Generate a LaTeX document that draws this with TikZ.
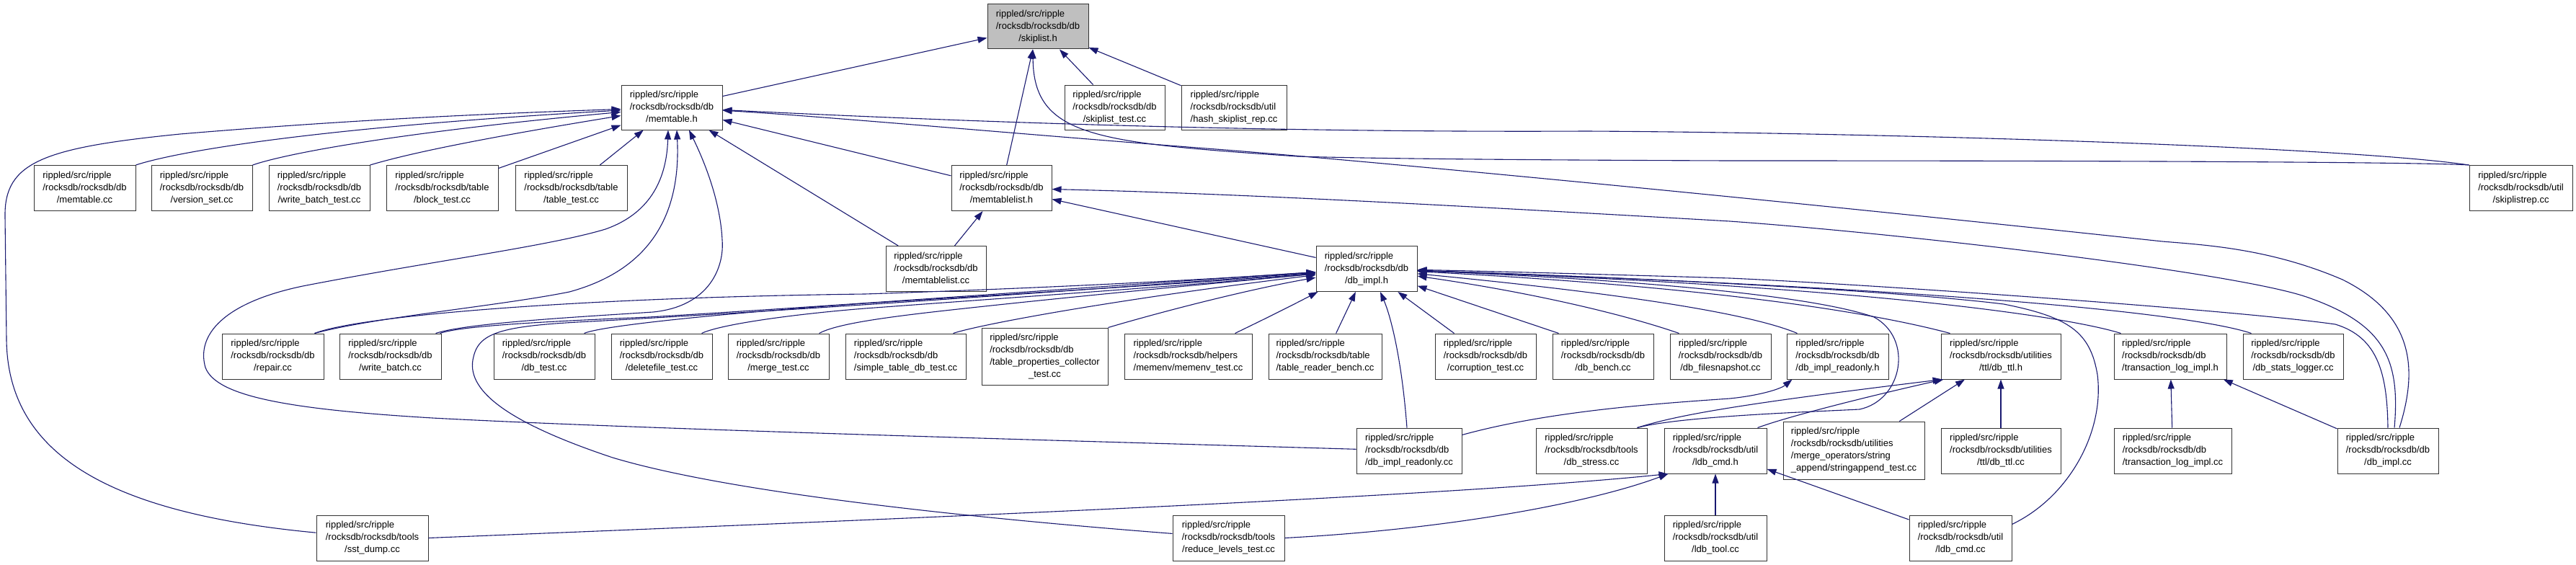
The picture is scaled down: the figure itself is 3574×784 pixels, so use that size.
\documentclass[tikz,border=0pt]{standalone}
\usepackage{fontspec}
\setmainfont{Liberation Sans}
\usetikzlibrary{arrows.meta,calc}
\definecolor{edgeblue}{HTML}{191970}
\definecolor{graynode}{HTML}{BFBFBF}
\newcommand\flbl[3]{\begin{tabular}{@{}l@{}}#1\\#2\\\multicolumn{1}{@{}c@{}}{#3}\end{tabular}}
\newcommand\flblf[4]{\begin{tabular}{@{}l@{}}#1\\#2\\#3\\\multicolumn{1}{@{}c@{}}{#4}\end{tabular}}
\newcommand\rsr{rippled/src/ripple}
\tikzset{
  file/.style={draw=black!80, line width=1pt, fill=white, inner sep=0pt, minimum height=63pt, font=\fontsize{13}{17}\selectfont},
  edge/.style={draw=edgeblue, line width=1.1pt, -{Triangle[length=13pt,width=9pt]}},
}
\begin{document}
\begin{tikzpicture}[x=1pt,y=-1pt]
\fill[white] (0,0) rectangle (3574,784);
\path[use as bounding box] (0,0) rectangle (3574,784);
% level 0
\node[file, fill=graynode, minimum width=140pt, minimum height=62pt] (skiplist) at (1440,37) {\flbl{\rsr}{/rocksdb/rocksdb/db}{/skiplist.h}};
% level 1
\node[file, minimum width=140pt, minimum height=62pt] (memtableh) at (932,149) {\flbl{\rsr}{/rocksdb/rocksdb/db}{/memtable.h}};
\node[file, minimum width=139pt, minimum height=62pt] (skiplisttest) at (1546.5,149) {\flbl{\rsr}{/rocksdb/rocksdb/db}{/skiplist\_test.cc}};
\node[file, minimum width=146pt, minimum height=62pt] (hashskip) at (1712,149) {\flbl{\rsr}{/rocksdb/rocksdb/util}{/hash\_skiplist\_rep.cc}};
% level 2
\node[file, minimum width=141pt] (memtablecc) at (117.5,261) {\flbl{\rsr}{/rocksdb/rocksdb/db}{/memtable.cc}};
\node[file, minimum width=140pt] (versionset) at (280,261) {\flbl{\rsr}{/rocksdb/rocksdb/db}{/version\_set.cc}};
\node[file, minimum width=140pt] (wbtest) at (443,261) {\flbl{\rsr}{/rocksdb/rocksdb/db}{/write\_batch\_test.cc}};
\node[file, minimum width=155pt] (blocktest) at (613.5,261) {\flbl{\rsr}{/rocksdb/rocksdb/table}{/block\_test.cc}};
\node[file, minimum width=155pt] (tabletest) at (792.5,261) {\flbl{\rsr}{/rocksdb/rocksdb/table}{/table\_test.cc}};
\node[file, minimum width=139pt] (memtablelisth) at (1389.5,261) {\flbl{\rsr}{/rocksdb/rocksdb/db}{/memtablelist.h}};
\node[file, minimum width=143pt] (skiplistrep) at (3497.5,261) {\flbl{\rsr}{/rocksdb/rocksdb/util}{/skiplistrep.cc}};
% level 3
\node[file, minimum width=139pt] (memtablelistcc) at (1298.5,373) {\flbl{\rsr}{/rocksdb/rocksdb/db}{/memtablelist.cc}};
\node[file, minimum width=140pt] (dbimplh) at (1896,373) {\flbl{\rsr}{/rocksdb/rocksdb/db}{/db\_impl.h}};
% level 4
\node[file, minimum width=141pt] (repair) at (378.5,494.5) {\flbl{\rsr}{/rocksdb/rocksdb/db}{/repair.cc}};
\node[file, minimum width=141pt] (writebatch) at (541.5,494.5) {\flbl{\rsr}{/rocksdb/rocksdb/db}{/write\_batch.cc}};
\node[file, minimum width=140pt] (dbtest) at (755,494.5) {\flbl{\rsr}{/rocksdb/rocksdb/db}{/db\_test.cc}};
\node[file, minimum width=140pt] (deletefile) at (918,494.5) {\flbl{\rsr}{/rocksdb/rocksdb/db}{/deletefile\_test.cc}};
\node[file, minimum width=140pt] (mergetest) at (1080,494.5) {\flbl{\rsr}{/rocksdb/rocksdb/db}{/merge\_test.cc}};
\node[file, minimum width=167pt] (simpletable) at (1256.5,494.5) {\flbl{\rsr}{/rocksdb/rocksdb/db}{/simple\_table\_db\_test.cc}};
\node[file, minimum width=175pt, minimum height=79pt] (tpc) at (1449.5,494.5) {\flblf{\rsr}{/rocksdb/rocksdb/db}{/table\_properties\_collector}{\_test.cc}};
\node[file, minimum width=177pt] (memenv) at (1648.5,494.5) {\flbl{\rsr}{/rocksdb/rocksdb/helpers}{/memenv/memenv\_test.cc}};
\node[file, minimum width=157pt] (tablereader) at (1838.5,494.5) {\flbl{\rsr}{/rocksdb/rocksdb/table}{/table\_reader\_bench.cc}};
\node[file, minimum width=140pt] (corruption) at (2061,494.5) {\flbl{\rsr}{/rocksdb/rocksdb/db}{/corruption\_test.cc}};
\node[file, minimum width=140pt] (dbbench) at (2224,494.5) {\flbl{\rsr}{/rocksdb/rocksdb/db}{/db\_bench.cc}};
\node[file, minimum width=140pt] (dbfilesnap) at (2387,494.5) {\flbl{\rsr}{/rocksdb/rocksdb/db}{/db\_filesnapshot.cc}};
\node[file, minimum width=141pt] (dbimplroh) at (2549.5,494.5) {\flbl{\rsr}{/rocksdb/rocksdb/db}{/db\_impl\_readonly.h}};
\node[file, minimum width=166pt] (dbttlh) at (2776,494.5) {\flbl{\rsr}{/rocksdb/rocksdb/utilities}{/ttl/db\_ttl.h}};
\node[file, minimum width=156pt] (tlimplh) at (3011,494.5) {\flbl{\rsr}{/rocksdb/rocksdb/db}{/transaction\_log\_impl.h}};
\node[file, minimum width=139pt] (dbstats) at (3181.5,494.5) {\flbl{\rsr}{/rocksdb/rocksdb/db}{/db\_stats\_logger.cc}};
% level 5
\node[file, minimum width=146pt] (dbimplro) at (1955,625.5) {\flbl{\rsr}{/rocksdb/rocksdb/db}{/db\_impl\_readonly.cc}};
\node[file, minimum width=154pt] (dbstress) at (2208,625.5) {\flbl{\rsr}{/rocksdb/rocksdb/tools}{/db\_stress.cc}};
\node[file, minimum width=142pt] (ldbcmdh) at (2380,625.5) {\flbl{\rsr}{/rocksdb/rocksdb/util}{/ldb\_cmd.h}};
\node[file, minimum width=196pt, minimum height=80pt] (stringappend) at (2572,625) {\flblf{\rsr}{/rocksdb/rocksdb/utilities}{/merge\_operators/string}{\_append/stringappend\_test.cc}};
\node[file, minimum width=166pt] (dbttlcc) at (2776,625.5) {\flbl{\rsr}{/rocksdb/rocksdb/utilities}{/ttl/db\_ttl.cc}};
\node[file, minimum width=163pt] (tlimplcc) at (3014.5,625.5) {\flbl{\rsr}{/rocksdb/rocksdb/db}{/transaction\_log\_impl.cc}};
\node[file, minimum width=140pt] (dbimplcc) at (3313,625.5) {\flbl{\rsr}{/rocksdb/rocksdb/db}{/db\_impl.cc}};
% level 6
\node[file, minimum width=155pt] (sstdump) at (516.5,746.5) {\flbl{\rsr}{/rocksdb/rocksdb/tools}{/sst\_dump.cc}};
\node[file, minimum width=155pt] (reducelevels) at (1704.5,746.5) {\flbl{\rsr}{/rocksdb/rocksdb/tools}{/reduce\_levels\_test.cc}};
\node[file, minimum width=142pt] (ldbtool) at (2380,746.5) {\flbl{\rsr}{/rocksdb/rocksdb/util}{/ldb\_tool.cc}};
\node[file, minimum width=142pt] (ldbcmdcc) at (2720,746.5) {\flbl{\rsr}{/rocksdb/rocksdb/util}{/ldb\_cmd.cc}};

% ---- edges to skiplist.h
\draw[edge] (memtableh) -- (skiplist);
\draw[edge] (skiplisttest) -- (skiplist);
\draw[edge] (hashskip) -- (skiplist);
\draw[edge] (memtablelisth) -- (skiplist);
\draw[edge] (skiplistrep.north west) .. controls (3380,226) and (3100,223) .. (2400,223) .. controls (2100,222) and (1900,220) .. (1800,217) .. controls (1520,198) and (1434,190) .. ([xshift=-7pt]skiplist.south);
% ---- edges to memtable.h
\draw[edge] (memtablecc.north east) .. controls (240,212) and (420,178) .. (memtableh);
\draw[edge] (versionset.north east) .. controls (400,212) and (560,183) .. (memtableh);
\draw[edge] (wbtest.north east) .. controls (560,215) and (650,195) .. (memtableh);
\draw[edge] (blocktest) -- (memtableh);
\draw[edge] (tabletest) -- (memtableh);
\draw[edge] (sstdump) .. controls (150,712) and (10,630) .. (9,470) -- (7,300) .. controls (6,225) and (60,205) .. (250,186) .. controls (500,165) and (700,157) .. (memtableh);
\draw[edge] ([xshift=-13pt]repair.north east) .. controls (520,440) and (690,425) .. (790,405) .. controls (900,375) and (945,300) .. ([xshift=7pt]memtableh.south);
\draw[edge] (dbimplro) .. controls (1500,612) and (900,596) .. (600,580) .. controls (400,568) and (300,550) .. (285,510) .. controls (272,465) and (310,420) .. (420,397) .. controls (600,362) and (760,342) .. (840,318) .. controls (905,295) and (925,245) .. ([xshift=-5pt]memtableh.south);
\draw[edge] ([xshift=-8pt]writebatch.north east) .. controls (650,448) and (800,440) .. (906,433) .. controls (985,425) and (1005,370) .. (1002,333) .. controls (1000,290) and (985,240) .. ([xshift=24pt]memtableh.south);
\draw[edge] (memtablelisth) -- (memtableh);
\draw[edge] (memtablelistcc) -- (memtableh);
\draw[edge] (skiplistrep.north west) .. controls (3250,203) and (2600,184) .. (2200,182) .. controls (1800,184) and (1400,172) .. (memtableh);
\draw[edge] ([xshift=16pt]dbimplcc.north) .. controls (3352,520) and (3355,440) .. (3250,388) .. controls (3150,345) and (3060,340) .. (3000,335) .. controls (2600,292) and (2000,232) .. (1700,208) .. controls (1400,185) and (1150,162) .. (memtableh);
% ---- edges to memtablelist.h
\draw[edge] (memtablelistcc) -- (memtablelisth);
\draw[edge] (dbimplh) -- (memtablelisth);
\draw[edge] ([xshift=9pt]dbimplcc.north) .. controls (3330,500) and (3310,450) .. (3200,412) .. controls (3100,378) and (2650,325) .. (2400,307) .. controls (2000,284) and (1700,268) .. (memtablelisth);
% ---- edges to db_impl.h from the left
\draw[edge] ([xshift=-13pt]repair.north east) .. controls (500,438) and (800,413) .. (1200,408) .. controls (1500,398) and (1700,386) .. (dbimplh);
\draw[edge] ([xshift=-2pt]writebatch.north east) .. controls (640,452) and (760,446) .. (900,440) .. controls (1200,422) and (1600,392) .. (dbimplh);
\draw[edge] (reducelevels) .. controls (1300,715) and (1000,680) .. (850,635) .. controls (700,585) and (645,540) .. (657,495) .. controls (665,460) and (700,452) .. (820,446) .. controls (1200,425) and (1600,395) .. (dbimplh);
\draw[edge] ([xshift=-15pt]dbtest.north east) .. controls (835,452) and (1000,435) .. (1200,421) .. controls (1500,402) and (1700,390) .. (dbimplh);
\draw[edge] ([xshift=-15pt]deletefile.north east) .. controls (1000,450) and (1100,436) .. (1200,428) .. controls (1500,406) and (1700,392) .. (dbimplh);
\draw[edge] ([xshift=-14pt]mergetest.north east) .. controls (1160,450) and (1220,441) .. (1320,430) .. controls (1520,408) and (1700,392) .. (dbimplh);
\draw[edge] ([xshift=-18pt]simpletable.north east) .. controls (1360,450) and (1550,415) .. (dbimplh);
\draw[edge] (tpc.north east) .. controls (1620,430) and (1740,400) .. (dbimplh);
\draw[edge] ([xshift=-24pt]memenv.north east) .. controls (1760,440) and (1790,425) .. ([xshift=3pt]dbimplh.south west);
% ---- edges to db_impl.h from below
\draw[edge] (tablereader) -- (dbimplh);
\draw[edge] ([xshift=-3pt]dbimplro.north) .. controls (1945,500) and (1930,440) .. ([xshift=19pt]dbimplh.south);
\draw[edge] (corruption) -- (dbimplh);
% ---- edges to db_impl.h from the right
\draw[edge] ([xshift=9pt]dbbench.north west) -- (dbimplh);
\draw[edge] ([xshift=13pt]dbfilesnap.north west) .. controls (2250,435) and (2120,405) .. (dbimplh);
\draw[edge] ([xshift=15pt]dbimplroh.north west) .. controls (2440,440) and (2300,412) .. (dbimplh);
\draw[edge] ([xshift=13pt]dbttlh.north west) .. controls (2640,445) and (2450,402) .. (dbimplh);
\draw[edge] ([xshift=10pt]tlimplh.north west) .. controls (2870,440) and (2600,398) .. (dbimplh);
\draw[edge] ([xshift=12pt]dbstats.north west) .. controls (3050,438) and (2750,402) .. (dbimplh);
\draw[edge] (dbimplcc.north) .. controls (3312,520) and (3300,468) .. (3240,450) .. controls (3100,430) and (2600,395) .. (2400,386) .. controls (2200,380) and (2050,376) .. (dbimplh);
\draw[edge] ([xshift=-14pt]dbstress.north east) .. controls (2330,578) and (2500,572) .. (2580,568) .. controls (2640,555) and (2655,470) .. (2600,440) .. controls (2500,405) and (2200,385) .. (dbimplh);
\draw[edge] ([yshift=-13pt]ldbcmdcc.north east) .. controls (2870,690) and (2920,600) .. (2910,520) .. controls (2900,460) and (2870,440) .. (2780,422) .. controls (2600,400) and (2200,383) .. (dbimplh);
% ---- other edges
\draw[edge] ([yshift=-10pt]dbimplro.north east) .. controls (2150,570) and (2300,560) .. (2400,553) .. controls (2440,549) and (2470,540) .. ([xshift=8pt]dbimplroh.south west);
\draw[edge] (stringappend) -- (dbttlh);
\draw[edge] (dbttlcc) -- (dbttlh);
\draw[edge] ([xshift=-13pt]ldbcmdh.north east) .. controls (2480,578) and (2600,548) .. ([xshift=4pt]dbttlh.south west);
\draw[edge] ([xshift=-14pt]dbstress.north east) .. controls (2330,575) and (2420,560) .. ([xshift=2pt]dbttlh.south west);
\draw[edge] (dbimplcc) -- (tlimplh);
\draw[edge] (tlimplcc) -- (tlimplh);
\draw[edge] (ldbtool) -- (ldbcmdh);
\draw[edge] (ldbcmdcc) -- (ldbcmdh);
\draw[edge] (sstdump.east) .. controls (1200,722) and (2000,690) .. ([xshift=6pt]ldbcmdh.south west);
\draw[edge] (reducelevels.east) .. controls (2000,735) and (2200,700) .. ([xshift=6pt]ldbcmdh.south west);
\end{tikzpicture}
\end{document}
